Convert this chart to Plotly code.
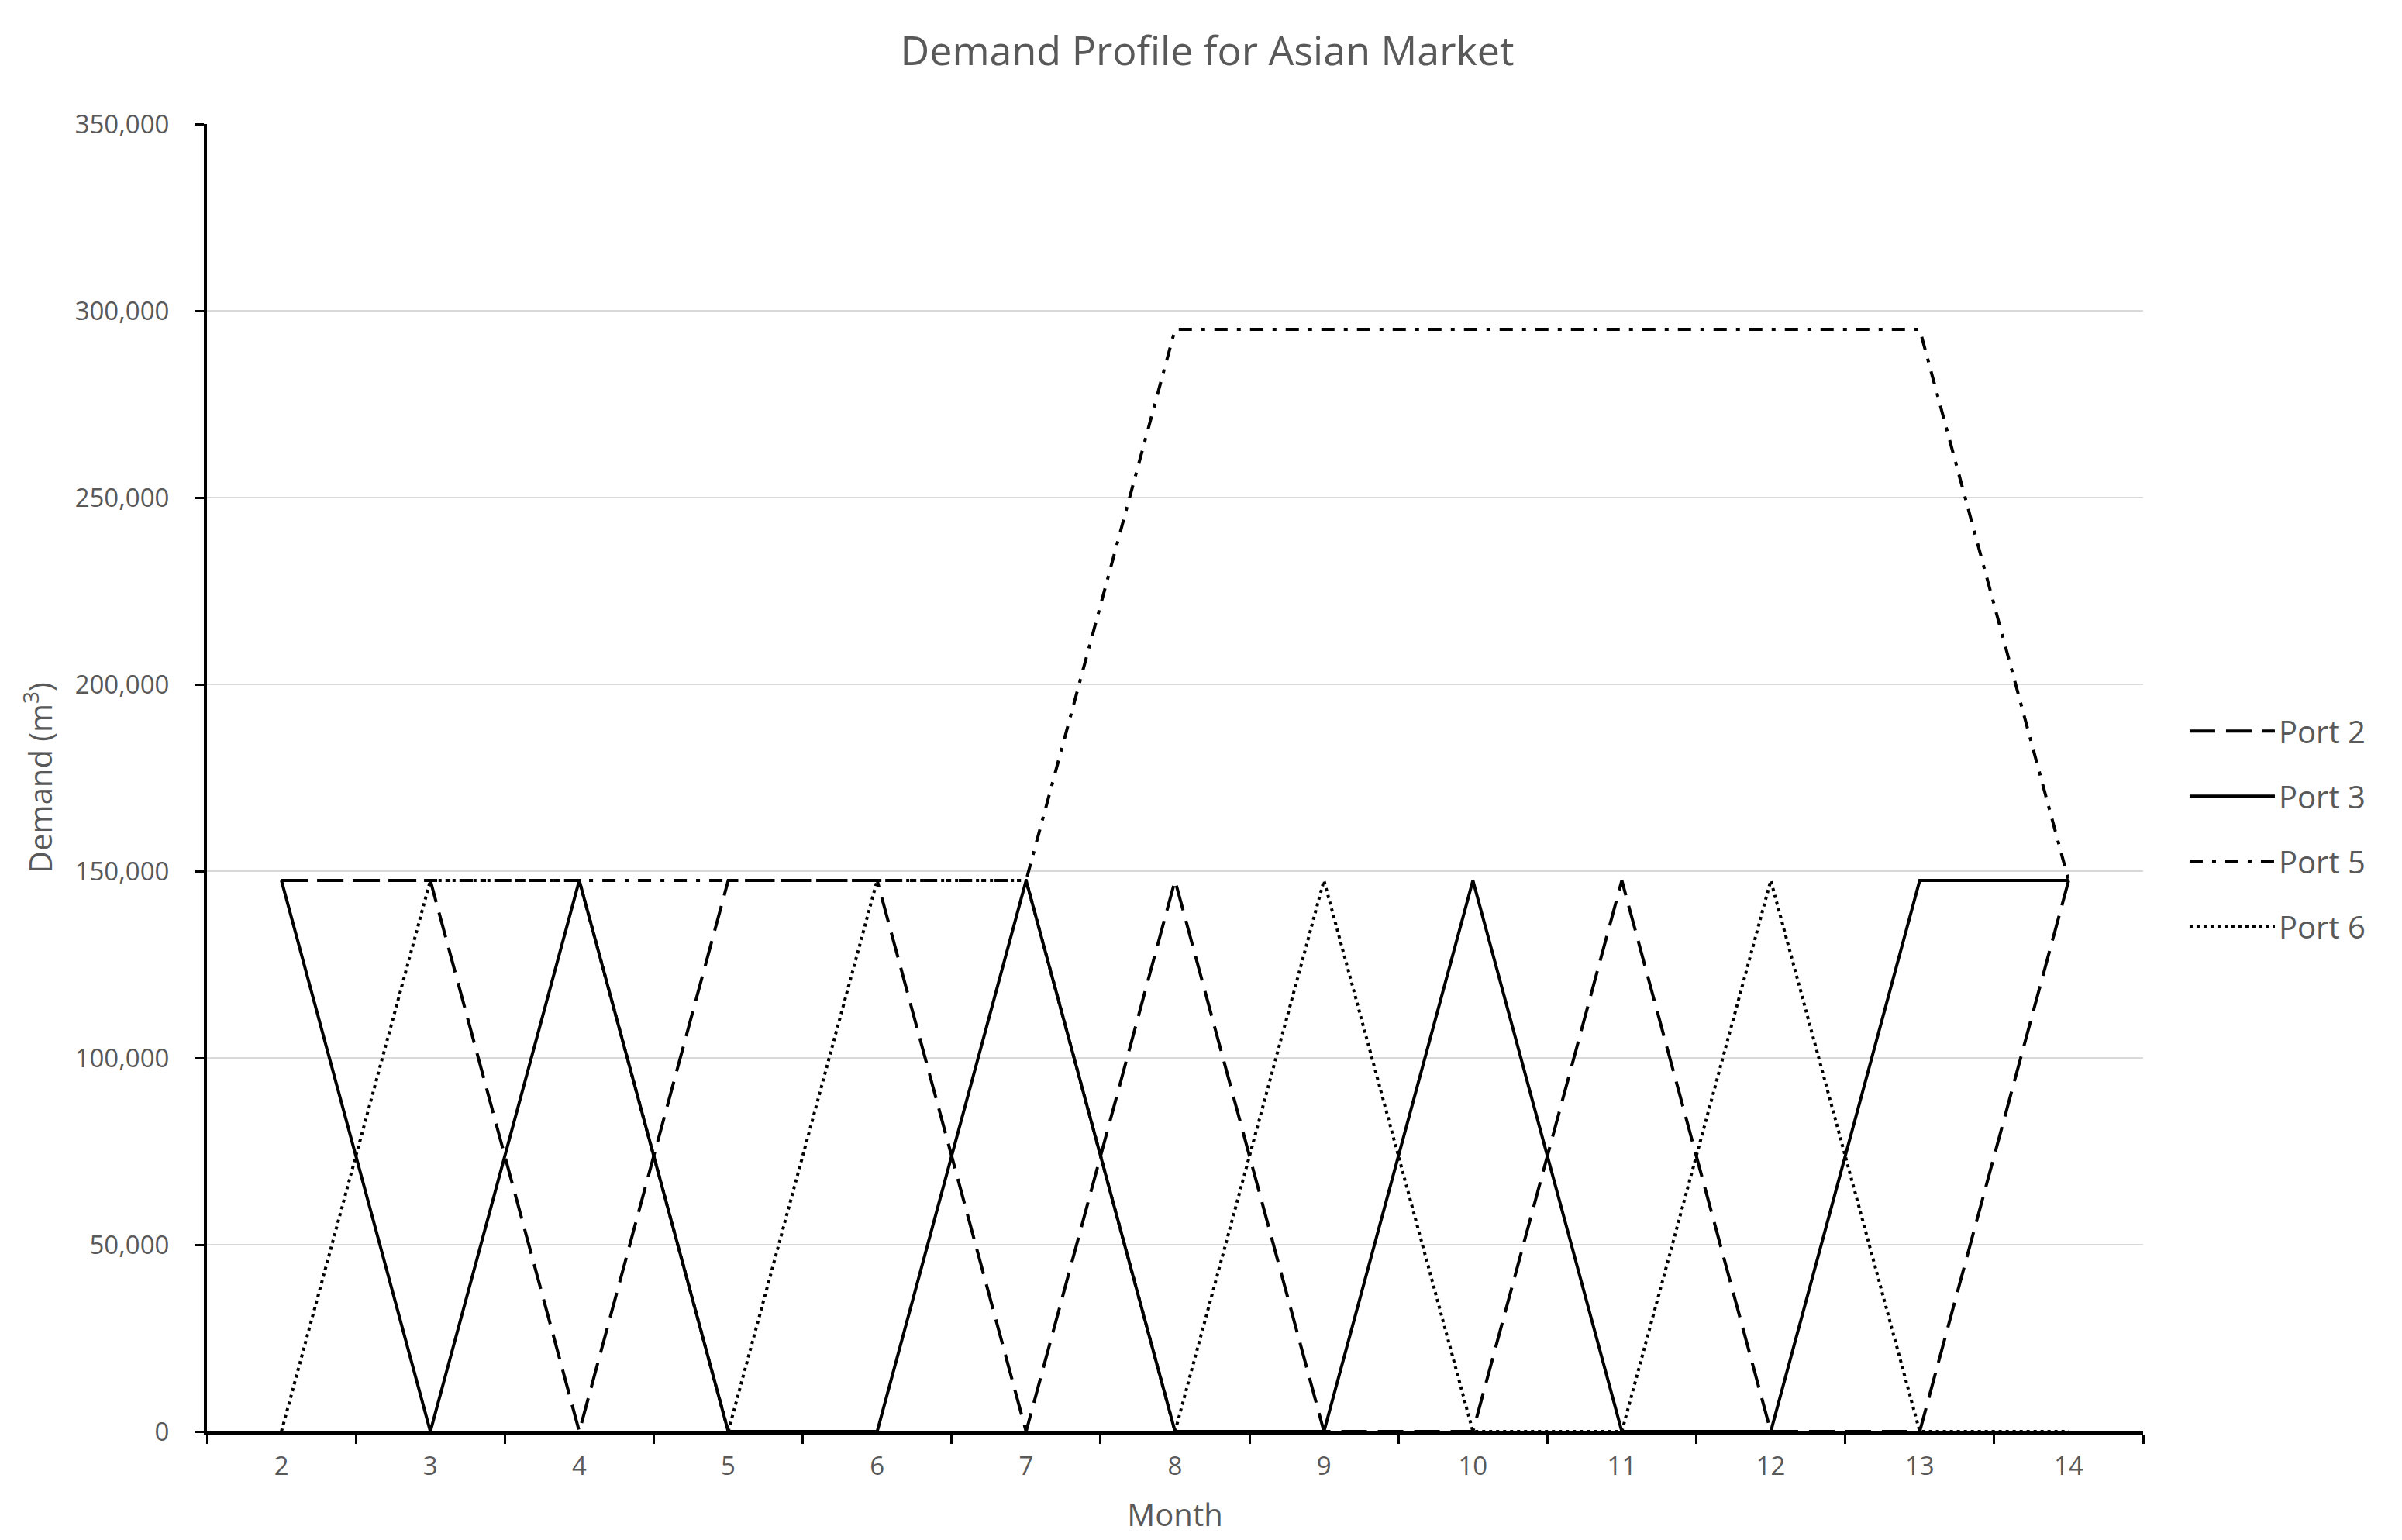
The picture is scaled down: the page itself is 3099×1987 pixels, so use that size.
import plotly.graph_objects as go

months = ["2", "3", "4", "5", "6", "7", "8", "9", "10", "11", "12", "13", "14"]
port2 = [147500, 147500, 0, 147500, 147500, 0, 147500, 0, 0, 147500, 0, 0, 147500]
port3 = [147500, 0, 147500, 0, 0, 147500, 0, 0, 147500, 0, 0, 147500, 147500]
port5 = [147500, 147500, 147500, 147500, 147500, 147500, 295000, 295000, 295000, 295000, 295000, 295000, 147500]
port6 = [0, 147500, 147500, 0, 147500, 147500, 0, 147500, 0, 0, 147500, 0, 0]

series = [
    ("Port 2", port2, "33px,14px"),
    ("Port 3", port3, "solid"),
    ("Port 5", port5, "17px,12px,5px,12px"),
    ("Port 6", port6, "4px,5px"),
]

FONT = "Open Sans"
GRAY = "#595959"

fig = go.Figure()
for name, vals, dash in series:
    fig.add_trace(go.Scatter(
        x=months, y=vals, name=name, mode="lines",
        legendgroup=name,
        line=dict(color="black", width=4, dash=dash),
    ))

fig.update_layout(
    width=3099, height=1987,
    paper_bgcolor="white", plot_bgcolor="white",
    margin=dict(l=259, r=342, t=152, b=148),
    font=dict(family=FONT, color=GRAY, size=33),
    title=dict(text="Demand Profile for Asian Market", x=0.5, xanchor="center",
               y=1 - 58 / 1987, yanchor="middle",
               font=dict(family=FONT, size=52, color=GRAY)),
    showlegend=True,
    legend=dict(x=1.022, xanchor="left", y=0.461, yanchor="middle",
                font=dict(family=FONT, size=40, color=GRAY),
                traceorder="grouped", tracegroupgap=29, itemwidth=110,
                bgcolor="rgba(0,0,0,0)"),
)

fig.update_xaxes(
    type="category", tickson="boundaries", range=[-0.5, len(months) - 0.5],
    showline=True, linecolor="black", linewidth=4,
    ticks="outside", ticklen=12, tickwidth=3, tickcolor="black",
    showgrid=False, zeroline=False,
    tickfont=dict(family=FONT, size=33, color=GRAY),
    ticklabelstandoff=12,
    title=dict(text="Month", font=dict(family=FONT, size=40, color=GRAY), standoff=30),
)
fig.update_yaxes(
    range=[0, 350000], dtick=50000, tickformat=",",
    showline=True, linecolor="black", linewidth=4,
    ticks="outside", ticklen=12, tickwidth=3, tickcolor="black",
    showgrid=True, gridcolor="#d9d9d9", gridwidth=2, zeroline=False,
    tickfont=dict(family=FONT, size=33, color=GRAY),
    ticklabelstandoff=26,
    title=dict(text="Demand (m<sup>3</sup>)", font=dict(family=FONT, size=40, color=GRAY), standoff=18),
)

fig.write_html("out.html")
